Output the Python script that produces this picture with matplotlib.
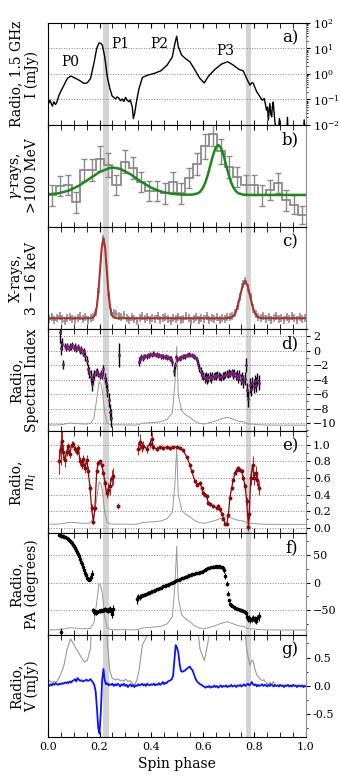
import numpy as np
import matplotlib
matplotlib.use("Agg")
import matplotlib.pyplot as plt
from matplotlib.ticker import MultipleLocator, FormatStrFormatter

plt.rcParams['font.family'] = 'DejaVu Serif'
plt.rcParams['mathtext.fontset'] = 'dejavuserif'

# ---- radio profile, 1.5 GHz (log10 mJy) ----
prof_phase = [0.000, 0.008, 0.017, 0.023, 0.029, 0.034, 0.043, 0.049, 0.062, 0.075,
              0.088, 0.101, 0.120, 0.140, 0.152, 0.165, 0.178, 0.189, 0.198, 0.205,
              0.211, 0.220, 0.230, 0.240, 0.249, 0.256, 0.262, 0.268, 0.275, 0.281,
              0.288, 0.294, 0.301, 0.307, 0.314, 0.319, 0.323, 0.327, 0.331, 0.336,
              0.344, 0.353, 0.366, 0.385, 0.411, 0.437, 0.462, 0.482, 0.492, 0.499,
              0.505, 0.518, 0.537, 0.550, 0.570, 0.589, 0.606, 0.621, 0.647, 0.673,
              0.696, 0.718, 0.740, 0.757, 0.770, 0.776, 0.783, 0.790, 0.796, 0.803,
              0.809, 0.816, 0.822, 0.827, 0.831, 0.838, 0.843, 0.847, 0.851, 0.854,
              0.860, 0.864, 0.867, 0.870, 0.873, 0.877, 0.880, 0.886, 0.892, 0.897,
              0.902, 0.925, 0.928, 0.931, 0.990, 0.993, 0.996, 1.000]
prof_log = [-1.22, -1.03, -1.26, -1.09, -1.20, -1.12, -0.83, -0.70, -0.44, -0.18,
            -0.08, -0.14, -0.24, -0.37, -0.35, -0.18, 0.41, 1.00, 1.22, 1.20,
            1.12, 0.67, -0.11, -0.57, -0.87, -0.92, -0.98, -0.90, -0.95, -1.05,
            -0.98, -1.08, -0.92, -1.03, -1.09, -1.02, -1.16, -1.30, -1.75, -1.55,
            -1.03, -0.57, -0.14, -0.05, 0.02, 0.12, 0.35, 0.67, 1.20, 1.48,
            1.07, 0.74, 0.57, 0.48, 0.15, -0.18, -0.35, -0.10, 0.18, 0.39,
            0.48, 0.35, 0.18, 0.12, -0.18, -0.30, -0.44, -0.34, -0.37, -0.55,
            -0.70, -0.80, -0.90, -0.98, -1.03, -0.96, -1.20, -1.42, -1.30, -1.81,
            -1.16, -1.60, -1.68, -1.25, -1.10, -1.60, -1.94, -2.10, -2.40, -1.75,
            -2.40, -2.40, -1.70, -2.40, -2.40, -1.80, -2.40, -2.40]
peak_names = ['P0', 'P1', 'P2', 'P3']
peak_label_phase = [0.085, 0.282, 0.432, 0.686]
peak_label_log = [0.48, 1.16, 1.16, 0.91]

# ---- gamma rays, 32 phase bins ----
gamma_counts = [31, 40, 41, 24, 56, 56, 67, 61, 41, 64, 58, 44, 35, 35, 33, 44,
                33, 48, 62, 79, 91, 74, 59, 49, 41, 41, 31, 36, 43, 26, 22, 12]
gamma_err = [10, 10, 10, 10, 11, 11, 12, 12, 10, 11, 11, 10, 10, 10, 10, 10,
             10, 10, 11, 12, 12, 12, 11, 10, 10, 10, 10, 10, 10, 10, 9, 9]
gfit_phase = [0.00, 0.04, 0.08, 0.12, 0.16, 0.20, 0.24, 0.253, 0.28, 0.32,
              0.36, 0.40, 0.44, 0.48, 0.52, 0.56, 0.58, 0.59, 0.60, 0.61,
              0.62, 0.63, 0.64, 0.65, 0.66, 0.67, 0.68, 0.69, 0.70, 0.71,
              0.72, 0.73, 0.74, 0.76, 0.80, 1.00]
gfit_val = [31.9, 33.0, 35.6, 40.4, 47.1, 53.9, 57.9, 58.2, 57.0, 51.7,
            44.6, 38.5, 34.5, 32.5, 31.7, 31.7, 32.9, 34.6, 38.0, 43.6,
            51.5, 61.1, 70.6, 77.7, 80.4, 77.7, 70.6, 61.1, 51.5, 43.6,
            38.0, 34.6, 32.8, 31.6, 31.4, 31.4]

# ---- X-rays 3-16 keV, 100 phase bins (normalised) ----
xray_val = [0.10, 0.12, 0.09, 0.11, 0.13, 0.10, 0.08, 0.11, 0.12, 0.10,
            0.09, 0.11, 0.13, 0.10, 0.12, 0.09, 0.11, 0.12, 0.17, 0.36,
            0.70, 0.88, 0.67, 0.33, 0.17, 0.16, 0.15, 0.13, 0.12, 0.14,
            0.11, 0.09, 0.12, 0.10, 0.08, 0.11, 0.13, 0.10, 0.12, 0.09,
            0.11, 0.10, 0.13, 0.09, 0.11, 0.12, 0.10, 0.08, 0.11, 0.10,
            0.12, 0.09, 0.10, 0.13, 0.11, 0.08, 0.10, 0.12, 0.09, 0.11,
            0.10, 0.13, 0.09, 0.11, 0.10, 0.12, 0.09, 0.11, 0.10, 0.12,
            0.12, 0.13, 0.16, 0.23, 0.31, 0.44, 0.47, 0.40, 0.31, 0.20,
            0.15, 0.12, 0.11, 0.13, 0.10, 0.12, 0.09, 0.11, 0.13, 0.10,
            0.11, 0.09, 0.12, 0.10, 0.13, 0.11, 0.09, 0.12, 0.10, 0.11]
xray_err = 0.04
xfit_phase = [0.0, 0.163, 0.176, 0.1825, 0.189, 0.1955, 0.202, 0.2085, 0.215, 0.2215,
              0.228, 0.2345, 0.241, 0.2475, 0.254, 0.267, 0.688, 0.707, 0.7165, 0.726,
              0.7355, 0.745, 0.7545, 0.764, 0.7735, 0.783, 0.7925, 0.802, 0.8115, 0.821,
              0.840, 1.0]
xfit_val = [0.105, 0.105, 0.114, 0.139, 0.211, 0.360, 0.581, 0.798, 0.890, 0.798,
            0.581, 0.360, 0.211, 0.139, 0.114, 0.105, 0.105, 0.109, 0.121, 0.154,
            0.224, 0.326, 0.427, 0.470, 0.427, 0.326, 0.224, 0.154, 0.121, 0.109,
            0.105, 0.105]

# ---- spectral index ----
d1_phase = [0.047, 0.050, 0.053, 0.060, 0.065, 0.070, 0.075, 0.080, 0.085, 0.090,
            0.095, 0.100, 0.105, 0.110, 0.115, 0.120, 0.125, 0.130, 0.135, 0.140,
            0.145, 0.150, 0.155, 0.160, 0.165, 0.170, 0.175, 0.180, 0.185, 0.190,
            0.195, 0.200, 0.205, 0.210, 0.215, 0.220, 0.225, 0.230, 0.235, 0.240,
            0.243]
d1_index = [2.6, 0.4, 0.9, -1.9, 0.6, 0.4, 0.7, 0.3, 0.6, 0.5,
            0.8, 0.4, 0.6, 0.2, 0.5, 0.3, 0.0, 0.2, -0.3, -0.1,
            -0.8, -1.4, -2.5, -3.0, -3.6, -4.6, -3.9, -3.3, -3.0, -2.8,
            -3.2, -3.5, -3.1, -3.4, -2.6, -3.8, -4.4, -5.5, -6.8, -8.5,
            -9.3]
d1_err = [1.5, 1.0, 0.8, 0.6, 0.4, 0.4, 0.4, 0.4, 0.4, 0.4,
          0.4, 0.4, 0.4, 0.4, 0.4, 0.4, 0.4, 0.5, 0.5, 0.5,
          0.6, 0.6, 0.7, 0.8, 0.9, 1.0, 0.8, 0.6, 0.5, 0.4,
          0.4, 0.4, 0.4, 0.5, 0.6, 0.7, 0.8, 0.9, 1.0, 1.1,
          1.2]
d_single = (0.274, -0.6, 1.7)
d2_start, d2_step = 0.352, 0.005
d2_index = [-1.5, -1.2, -0.9, -1.0, -0.8, -0.7, -0.8, -0.6, -0.7, -0.5,
            -0.6, -0.4, -0.5, -0.6, -0.5, -0.7, -0.6, -0.8, -0.7, -0.8,
            -0.9, -0.8, -1.0, -0.9, -1.1, -1.2, -1.6, -2.8, -2.0, -0.9,
            -1.3, -1.0, -1.1, -0.9, -0.8, -0.7, -0.8, -0.6, -0.6, -0.5,
            -0.6, -0.6, -0.7, -0.8, -1.0, -1.3, -1.8, -2.4, -2.9, -3.3,
            -3.5, -3.8, -3.6, -3.9, -3.7, -3.6, -3.8, -3.5, -3.6, -3.4,
            -3.5, -3.3, -3.5, -3.6, -3.7, -3.5, -3.4, -3.3, -3.2, -3.3,
            -3.1, -3.2, -3.0, -3.3, -3.1, -3.5, -3.3, -3.8, -3.4, -4.0,
            -3.7, -4.3, -3.9, -2.0, -5.4, -6.7, -4.8, -5.3, -4.5, -4.9,
            -4.2, -4.7, -4.0, -4.4]
d2_err = [0.6, 0.5, 0.4, 0.4, 0.3, 0.3, 0.3, 0.3, 0.3, 0.3,
          0.3, 0.3, 0.3, 0.3, 0.3, 0.3, 0.3, 0.3, 0.3, 0.3,
          0.3, 0.3, 0.3, 0.3, 0.3, 0.4, 0.5, 0.7, 0.5, 0.3,
          0.3, 0.3, 0.3, 0.3, 0.3, 0.3, 0.3, 0.3, 0.3, 0.3,
          0.3, 0.3, 0.3, 0.3, 0.3, 0.4, 0.5, 0.5, 0.6, 0.6,
          0.6, 0.7, 0.6, 0.7, 0.6, 0.6, 0.6, 0.5, 0.5, 0.5,
          0.5, 0.5, 0.5, 0.5, 0.5, 0.5, 0.5, 0.5, 0.5, 0.5,
          0.5, 0.5, 0.5, 0.6, 0.6, 0.6, 0.6, 0.7, 0.7, 0.8,
          0.8, 0.9, 0.9, 1.0, 1.0, 1.1, 1.0, 1.0, 0.9, 1.0,
          0.9, 1.0, 0.9, 1.0]

# ---- linear polarisation fraction m_l ----
e1_phase = [0.044, 0.049, 0.053, 0.059, 0.066, 0.072, 0.079, 0.085, 0.092, 0.098,
            0.105, 0.111, 0.118, 0.124, 0.131, 0.137, 0.143, 0.150, 0.156, 0.163,
            0.169, 0.176, 0.182, 0.189, 0.195, 0.202, 0.208, 0.215, 0.221, 0.227,
            0.234, 0.240, 0.247, 0.253]
e1_ml = [0.80, 0.95, 1.05, 0.91, 0.81, 0.91, 0.98, 0.89, 1.00, 1.01,
         0.95, 0.91, 0.96, 0.80, 0.76, 0.83, 0.72, 0.81, 0.68, 0.48,
         0.24, 0.07, 0.24, 0.68, 0.78, 0.80, 0.76, 0.66, 0.54, 0.42,
         0.46, 0.50, 0.60, 0.62]
e1_err = [0.15, 0.20, 0.15, 0.10, 0.08, 0.05, 0.04, 0.05, 0.04, 0.04,
          0.04, 0.04, 0.04, 0.05, 0.05, 0.05, 0.06, 0.06, 0.06, 0.05,
          0.04, 0.03, 0.03, 0.02, 0.02, 0.02, 0.02, 0.03, 0.04, 0.06,
          0.08, 0.10, 0.10, 0.10]
e_single = (0.273, 0.26, 0.04)
e2_phase = [0.350, 0.357, 0.363, 0.370, 0.382, 0.395, 0.402, 0.408, 0.421, 0.434,
            0.447, 0.460, 0.473, 0.486, 0.499, 0.512, 0.525, 0.538, 0.550, 0.557,
            0.570, 0.576, 0.589, 0.596, 0.602, 0.609, 0.615, 0.621, 0.628, 0.641,
            0.654, 0.660, 0.667, 0.673, 0.680, 0.686, 0.693, 0.699, 0.705, 0.712,
            0.718, 0.725, 0.731, 0.738, 0.744, 0.751, 0.757, 0.764, 0.770, 0.777,
            0.780, 0.786, 0.793, 0.798, 0.805, 0.811, 0.818]
e2_ml = [0.95, 1.03, 0.97, 0.99, 0.95, 1.01, 1.07, 0.97, 0.95, 0.97,
         0.96, 0.97, 0.96, 0.97, 0.97, 0.96, 0.93, 0.85, 0.76, 0.68,
         0.56, 0.52, 0.54, 0.48, 0.42, 0.40, 0.38, 0.30, 0.28, 0.26,
         0.24, 0.26, 0.22, 0.17, 0.11, 0.05, 0.05, 0.15, 0.36, 0.48,
         0.58, 0.66, 0.70, 0.72, 0.69, 0.68, 0.60, 0.50, 0.32, 0.01,
         0.17, 0.60, 0.76, 0.60, 0.66, 0.58, 0.48]
e2_err = [0.08, 0.10, 0.06, 0.05, 0.05, 0.05, 0.08, 0.04, 0.03, 0.02,
          0.02, 0.02, 0.02, 0.015, 0.015, 0.015, 0.015, 0.015, 0.02, 0.02,
          0.02, 0.02, 0.02, 0.02, 0.02, 0.02, 0.02, 0.02, 0.02, 0.02,
          0.02, 0.02, 0.02, 0.02, 0.02, 0.02, 0.02, 0.02, 0.02, 0.02,
          0.02, 0.02, 0.02, 0.02, 0.02, 0.03, 0.03, 0.04, 0.05, 0.05,
          0.06, 0.08, 0.10, 0.08, 0.08, 0.08, 0.08]

# ---- position angle (degrees) ----
f1_start, f1_step = 0.044, 0.004
f1_pa = [87, 86, 85, 84, 84, 83, 82, 81, 79, 78,
         76, 74, 72, 69, 66, 63, 60, 56, 52, 48,
         43, 38, 33, 28, 23, 17, 13, 9, 6, 5,
         6, 10, 16]
f1_err = [2, 2, 2, 2, 2, 2, 2, 2, 2, 2,
          2, 2, 2, 2, 2, 2, 2, 2, 2, 2,
          2, 2, 2, 2, 2, 2, 2, 3, 3, 3,
          4, 5, 6]
f2_start, f2_step = 0.176, 0.004
f2_pa = [-50, -54, -52, -55, -53, -51, -52, -50, -51, -49,
         -50, -48, -50, -49, -51, -48, -47, -52, -57, -48]
f2_err = [4, 4, 3, 3, 3, 3, 3, 3, 3, 3, 3, 3, 3, 3, 4, 4, 5, 6, 8, 8]
f_single = (0.049, -89, 6)
f3_phase = [0.344, 0.350, 0.356, 0.362, 0.368, 0.374, 0.380, 0.386, 0.392, 0.398,
            0.404, 0.410, 0.416, 0.422, 0.428, 0.434, 0.440, 0.446, 0.452, 0.458,
            0.464, 0.470, 0.476, 0.482, 0.488, 0.494, 0.500, 0.506, 0.512, 0.518,
            0.524, 0.530, 0.536, 0.542, 0.548, 0.554, 0.560, 0.566, 0.572, 0.578,
            0.584, 0.590, 0.596, 0.602, 0.608, 0.614, 0.620, 0.626, 0.632, 0.638,
            0.644, 0.650, 0.656, 0.662, 0.668, 0.674, 0.680, 0.684, 0.688, 0.692,
            0.696, 0.700, 0.704, 0.708, 0.714, 0.720, 0.726, 0.732, 0.738, 0.744,
            0.750, 0.756, 0.762, 0.768, 0.772, 0.776, 0.780, 0.784, 0.790, 0.796,
            0.802, 0.808, 0.812, 0.818]
f3_pa = [-30, -27, -26, -24, -23, -22, -21, -19, -18, -17,
         -16, -15, -13, -12, -11, -10, -9, -7, -6, -5,
         -4, -3, -1, 0, 1, 3, 4, 5, 7, 8,
         9, 10, 11, 12, 13, 14, 15, 16, 17, 17,
         18, 19, 20, 21, 23, 25, 26, 27, 28, 29,
         28, 30, 29, 30, 29, 28, 27, 22, 12, -2,
         -20, -32, -38, -41, -43, -45, -46, -47, -48, -49,
         -50, -51, -53, -56, -62, -66, -64, -68, -66, -64,
         -67, -69, -65, -61]
f3_err = [8, 6, 5, 4, 3, 3, 3, 3, 2, 2,
          2, 2, 2, 2, 2, 2, 2, 2, 2, 2,
          2, 2, 2, 2, 2, 2, 2, 2, 2, 2,
          2, 2, 2, 2, 2, 2, 2, 2, 2, 2,
          2, 2, 2, 2, 2, 2, 2, 2, 2, 2,
          2, 2, 2, 2, 2, 2, 3, 4, 5, 5,
          4, 3, 3, 2, 2, 2, 2, 2, 2, 3,
          3, 3, 4, 5, 6, 6, 5, 6, 6, 5,
          6, 7, 7, 8]

# ---- circular polarisation V (mJy), 0.005 phase steps ----
v_step = 0.005
v_mjy = [0.02, 0.00, 0.03, 0.01, 0.04, 0.02, 0.05, 0.03, 0.02, 0.04,
         0.03, 0.05, 0.04, 0.06, 0.05, 0.07, 0.05, 0.08, 0.06, 0.09,
         0.10, 0.12, 0.08, 0.14, 0.11, 0.09, 0.10, 0.08, 0.09, 0.10,
         0.11, 0.09, 0.10, 0.12, 0.09, 0.06, 0.01, -0.10, -0.40, -0.75,
         -0.84, -0.45, 0.10, 0.30, 0.10, 0.03, 0.05, 0.01, 0.03, 0.02,
         0.04, 0.00, 0.03, 0.01, 0.04, 0.02, -0.01, 0.03, 0.01, 0.04,
         0.00, 0.02, -0.02, 0.01, 0.03, -0.01, 0.02, -0.02, 0.01, 0.00,
         0.03, 0.01, 0.02, 0.04, 0.01, 0.03, 0.00, 0.04, 0.02, 0.01,
         0.03, 0.02, 0.04, 0.01, 0.03, 0.02, 0.05, 0.02, 0.04, 0.07,
         0.03, 0.06, 0.05, 0.08, 0.09, 0.10, 0.12, 0.18, 0.45, 0.72,
         0.68, 0.60, 0.40, 0.27, 0.25, 0.26, 0.27, 0.29, 0.31, 0.33,
         0.34, 0.30, 0.28, 0.22, 0.15, 0.10, 0.07, 0.05, 0.03, 0.02,
         0.00, -0.01, -0.03, -0.01, -0.02, 0.00, -0.03, -0.01, -0.02, 0.01,
         -0.02, 0.00, -0.03, -0.01, 0.01, -0.02, 0.00, -0.01, 0.01, -0.02,
         0.00, -0.01, 0.02, -0.01, 0.00, 0.01, -0.02, 0.01, 0.00, 0.02,
         -0.01, 0.01, 0.03, 0.00, 0.02, 0.04, 0.01, 0.03, 0.07, 0.03,
         0.01, 0.03, -0.01, 0.02, 0.00, 0.01, 0.03, 0.00, 0.02, 0.01,
         -0.01, 0.02, 0.00, 0.03, 0.01, -0.01, 0.02, 0.00, 0.01, -0.01,
         0.02, 0.00, 0.01, -0.02, 0.01, 0.00, 0.02, -0.01, 0.01, -0.01,
         0.02, 0.00, 0.01, -0.02, 0.01, 0.00, -0.01, 0.01, -0.02, 0.00,
         -0.01]

bands = [(0.215, 0.235), (0.767, 0.787)]

# ---------------------------------------------------------------
prof_I = 10 ** np.array(prof_log)
prof_n = prof_I / prof_I.max()

fig, axes = plt.subplots(7, 1, sharex=True, figsize=(3.4, 7.76), dpi=100)
fig.subplots_adjust(left=0.141, right=0.9, top=0.9704, bottom=0.0503, hspace=0)

labels = ['Radio, 1.5 GHz\nI (mJy)', '$\\gamma$-rays,\n>100 MeV', 'X-rays,\n3 $-$16 keV',
          'Radio,\nSpectral Index', 'Radio,\n$m_l$', 'Radio,\nPA (degrees)', 'Radio,\nV (mJy)']
tags = ['a)', 'b)', 'c)', 'd)', 'e)', 'f)', 'g)']

for ax, lab, tag in zip(axes, labels, tags):
    for b0, b1 in bands:
        ax.axvspan(b0, b1, color='#d3d3d3', lw=0, zorder=0)
    ax.set_xlim(0, 1)
    ax.yaxis.tick_right()
    ax.spines['right'].set_color('#909090')
    ax.xaxis.set_major_locator(MultipleLocator(0.2))
    ax.xaxis.set_minor_locator(MultipleLocator(0.05))
    ax.tick_params(axis='x', which='both', direction='in', top=True, bottom=True, length=3.5)
    ax.tick_params(axis='y', which='major', direction='out', length=3, labelsize=8, pad=2)
    ax.tick_params(axis='y', which='minor', direction='out', length=1.5)
    ax.set_ylabel(lab, fontsize=10, linespacing=1.1)
    ax.yaxis.set_label_coords(-0.035, 0.5)
    ax.text(0.97, 0.94, tag, transform=ax.transAxes, ha='right', va='top', fontsize=12)

grid_kw = dict(color='gray', ls=':', lw=0.7)

# a) radio profile
ax = axes[0]
ax.plot(prof_phase, prof_I, color='black', lw=1.0)
ax.set_yscale('log')
ax.set_ylim(1e-2, 1e2)
ax.grid(axis='y', which='major', **grid_kw)
for name, px, py in zip(peak_names, peak_label_phase, peak_label_log):
    ax.text(px, 10 ** py, name, ha='center', va='center', fontsize=10)

# b) gamma rays
ax = axes[1]
edges = np.linspace(0, 1, len(gamma_counts) + 1)
centres = 0.5 * (edges[:-1] + edges[1:])
ax.stairs(gamma_counts, edges, color='#8a8a8a', lw=1.3, baseline=None)
ax.errorbar(centres, gamma_counts, yerr=gamma_err, fmt='none', ecolor='#8a8a8a',
            elinewidth=1.0, capsize=2.5)
ax.plot(gfit_phase, gfit_val, color='#1a8a1a', lw=1.8)
ax.set_ylim(0, 100)
ax.set_yticks([])

# c) X-rays
ax = axes[2]
xray_phase = (np.arange(len(xray_val)) + 0.5) / len(xray_val)
ax.errorbar(xray_phase, xray_val, xerr=0.5 / len(xray_val), yerr=xray_err, fmt='none',
            ecolor='#858585', elinewidth=1.1)
ax.plot(xfit_phase, xfit_val, color='#b03030', lw=1.5)
ax.set_ylim(0, 1)
ax.set_yticks([])

# d) spectral index
ax = axes[3]
ax.plot(prof_phase, -10.3 + prof_n * 10.9, color='#999999', lw=0.7)
d2_phase = d2_start + d2_step * np.arange(len(d2_index))
pt_kw = dict(fmt='o', ms=1.2, mfc='#7a1a7a', mec='#7a1a7a', ecolor='black', elinewidth=1.0)
ax.errorbar(d1_phase, d1_index, yerr=d1_err, **pt_kw)
ax.errorbar([d_single[0]], [d_single[1]], yerr=[d_single[2]], **pt_kw)
ax.errorbar(d2_phase, d2_index, yerr=d2_err, **pt_kw)
ax.set_ylim(-11.1, 3)
ax.set_yticks([2, 0, -2, -4, -6, -8, -10])
ax.yaxis.set_minor_locator(MultipleLocator(1))
ax.grid(axis='y', which='major', **grid_kw)

# e) m_l
ax = axes[4]
ax.plot(prof_phase, 0.04 + prof_n * 0.93, color='#999999', lw=0.7)
ml_kw = dict(fmt='-o', ms=1.8, color='#8b0a0a', ecolor='#a83030', elinewidth=0.8, lw=0.9)
ax.errorbar(e1_phase, e1_ml, yerr=e1_err, **ml_kw)
ax.errorbar([e_single[0]], [e_single[1]], yerr=[e_single[2]], **ml_kw)
ax.errorbar(e2_phase, e2_ml, yerr=e2_err, **ml_kw)
ax.set_ylim(-0.063, 1.165)
ax.yaxis.set_major_locator(MultipleLocator(0.2))
ax.yaxis.set_minor_locator(MultipleLocator(0.1))
ax.yaxis.set_major_formatter(FormatStrFormatter('%.1f'))
ax.grid(axis='y', which='major', **grid_kw)

# f) PA
ax = axes[5]
ax.plot(prof_phase, -86 + prof_n * 152, color='#999999', lw=0.7)
pa_kw = dict(fmt='o', ms=1.6, color='black', ecolor='black', elinewidth=0.8)
f1_phase = f1_start + f1_step * np.arange(len(f1_pa))
f2_phase = f2_start + f2_step * np.arange(len(f2_pa))
ax.errorbar(f1_phase, f1_pa, yerr=f1_err, **pa_kw)
ax.errorbar(f2_phase, f2_pa, yerr=f2_err, **pa_kw)
ax.errorbar([f_single[0]], [f_single[1]], yerr=[f_single[2]], **pa_kw)
ax.errorbar(f3_phase, f3_pa, yerr=f3_err, **pa_kw)
ax.set_ylim(-95, 90)
ax.set_yticks([50, 0, -50])
ax.yaxis.set_minor_locator(MultipleLocator(25))
ax.grid(axis='y', which='major', **grid_kw)

# g) circular polarisation
ax = axes[6]
ax.plot(prof_phase, prof_I, color='#999999', lw=0.8)
v_phase = v_step * np.arange(len(v_mjy))
ax.plot(v_phase, v_mjy, color='#0a14ff', lw=1.3)
ax.set_ylim(-0.9, 0.9)
ax.set_yticks([0.5, 0.0, -0.5])
ax.yaxis.set_minor_locator(MultipleLocator(0.25))
ax.yaxis.set_major_formatter(FormatStrFormatter('%.1f'))
ax.tick_params(axis='x', labelsize=8)
ax.set_xlabel('Spin phase', fontsize=10)

fig.savefig('out.png', dpi=100)
